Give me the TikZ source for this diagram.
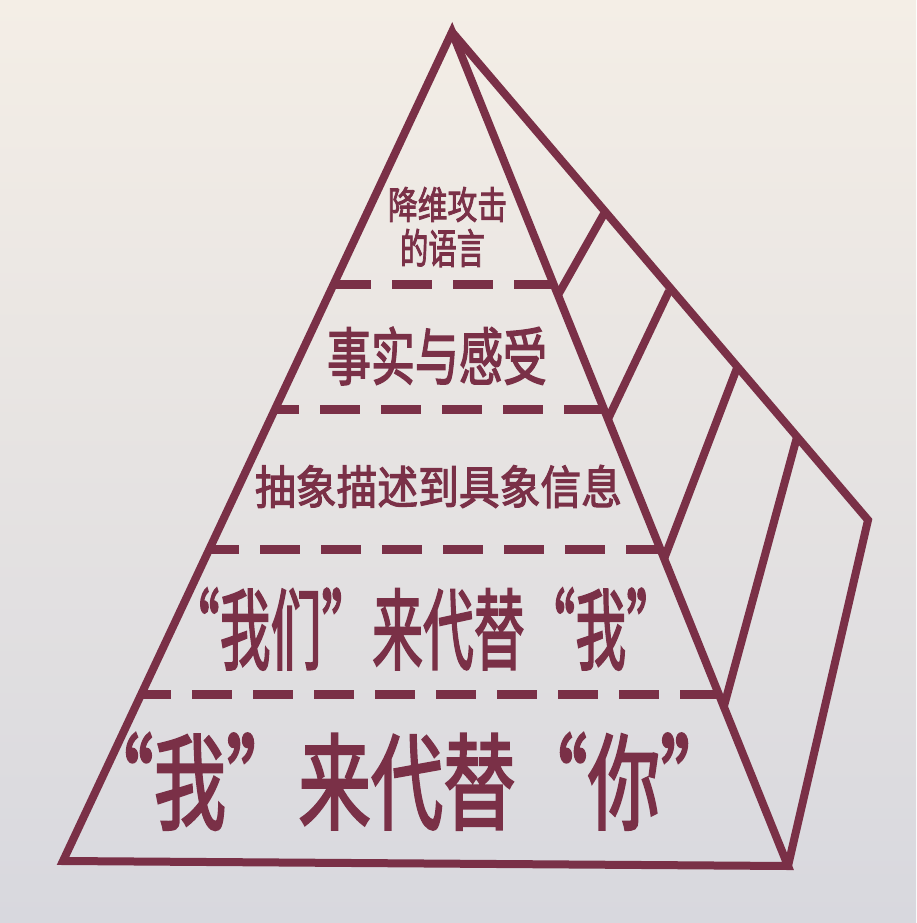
\documentclass[tikz,border=0pt]{standalone}
\usepackage{fontspec}
\usepackage{graphicx}
\newfontfamily\song[FakeBold=2.5]{Noto Sans CJK SC}
\definecolor{maroon}{HTML}{7A3047}
\definecolor{bgtop}{HTML}{F4EEE6}
\definecolor{bgmid}{HTML}{E6E2E2}
\definecolor{bgbot}{HTML}{D8D8DE}
\begin{document}
\begin{tikzpicture}[x=1pt,y=-1pt,
  edge/.style={draw=maroon,line width=8pt,line join=miter},
  dline/.style={draw=maroon,line width=9pt,dash pattern=on 40pt off 21pt},
  lbl/.style={inner sep=0pt,text=maroon,font=\song}]
\useasboundingbox (0,0) rectangle (916,923);
\shade[top color=bgtop,middle color=bgmid,bottom color=bgbot] (0,0) rectangle (916,923);
% main corners
\coordinate (A) at (452,32);
\coordinate (BL) at (63,861);
\coordinate (BR) at (788,866);
\coordinate (V) at (868,520);
% dashed line ends
\coordinate (L1) at (334,284);  \coordinate (R1) at (553,284);
\coordinate (L2) at (275,409);  \coordinate (R2) at (604,409);
\coordinate (L3) at (209,549);  \coordinate (R3) at (660,549);
\coordinate (L4) at (141,694);  \coordinate (R4) at (719,694);
% divider ends
\coordinate (F1) at (558,295);  \coordinate (K1) at (605,212);
\coordinate (F2) at (608,419);  \coordinate (K2) at (669,291);
\coordinate (F3) at (664,559);  \coordinate (K3) at (737,368);
\coordinate (F4) at (724,706);  \coordinate (K4) at (797,437);
% outline
\draw[edge] (A) -- (BL) -- (BR) -- cycle;
\draw[edge] (A) -- (V) -- (BR);
\foreach \i in {1,2,3,4} {\draw[edge] (F\i) -- (K\i);}
% dashed levels
\draw[dline,dash phase=3pt] (L1) -- (R1);
\draw[dline,dash phase=16pt] (L2) -- (R2);
\draw[dline,dash phase=10pt] (L3) -- (R3);
\draw[dline,dash phase=10pt] (L4) -- (R4);
% labels
\node[lbl] (t1a) at (447.5,204.5) {\resizebox*{119pt}{35pt}{降维攻击}};
\node[lbl] (t1b) at (442.5,248) {\resizebox*{85pt}{38pt}{的语言}};
\node[lbl] (t2) at (437,356) {\resizebox*{220pt}{58pt}{事实与感受}};
\node[lbl] (t3) at (438.5,486.5) {\resizebox*{367pt}{43pt}{抽象描述到具象信息}};
\node[lbl] (t4) at (423,629) {\resizebox*{508pt}{82pt}{“我们”来代替“我”}};
\node[lbl] (t5) at (407,781.5) {\resizebox*{651pt}{97pt}{“我”来代替“你”}};
\end{tikzpicture}
\end{document}
